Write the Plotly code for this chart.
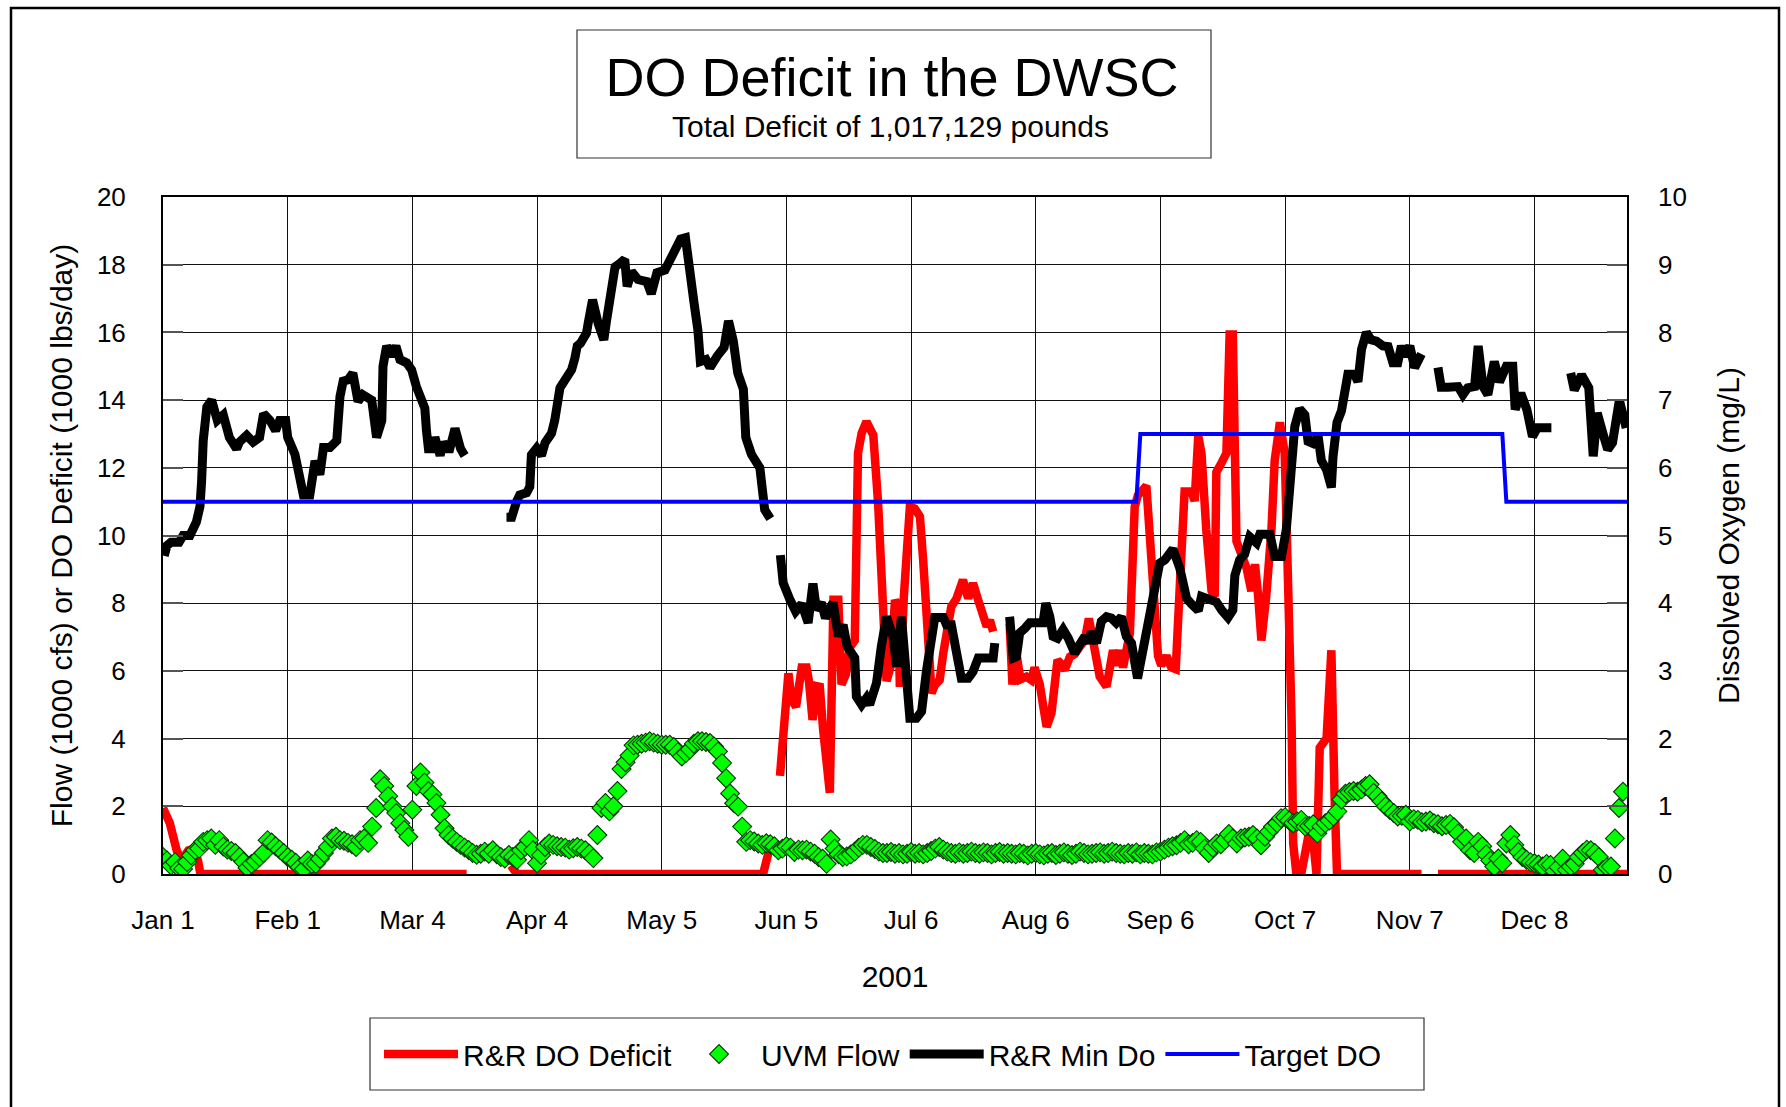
import plotly.graph_objects as go
import pandas as pd

# ---------------- data ----------------
BASE = pd.Timestamp("2001-01-01")

tick_dates = ["2001-01-01", "2001-02-01", "2001-03-04", "2001-04-04", "2001-05-05", "2001-06-05",
              "2001-07-06", "2001-08-06", "2001-09-06", "2001-10-07", "2001-11-07", "2001-12-08"]
tick_labels = ["Jan 1", "Feb 1", "Mar 4", "Apr 4", "May 5", "Jun 5",
               "Jul 6", "Aug 6", "Sep 6", "Oct 7", "Nov 7", "Dec 8"]

# UVM Flow (1000 cfs), one value per day starting Jan 1
flow_jan = [0.5, 0.4, 0.25, 0.35, 0.17, 0.15, 0.35, 0.55, 0.7, 0.75, 0.95, 1.0, 1.05, 0.86, 1.0, 0.81,
            0.72, 0.68, 0.62, 0.5, 0.36, 0.18, 0.3, 0.38, 0.5, 0.62, 1.0, 0.93, 0.82, 0.72, 0.62]
flow_feb = [0.5, 0.42, 0.33, 0.2, 0.14, 0.4, 0.3, 0.3, 0.45, 0.62, 0.8, 1.05, 1.1, 1.0, 0.98, 0.92,
            0.88, 0.8, 1.0, 1.05, 0.92, 1.4, 1.95, 2.8, 2.6, 2.3, 2.0, 1.8]
flow_mar = [1.5, 1.3, 1.1, 1.9, 2.6, 3.0, 2.7, 2.45, 2.35, 2.1, 1.75, 1.35, 1.15, 1.05, 0.95, 0.86,
            0.78, 0.71, 0.62, 0.57, 0.6, 0.66, 0.6, 0.7, 0.58, 0.5, 0.46, 0.56, 0.5, 0.42, 0.7]
flow_apr = [0.8, 1.0, 0.7, 0.32, 0.56, 0.8, 0.9, 0.86, 0.82, 0.8, 0.78, 0.72, 0.76, 0.8, 0.75, 0.7,
            0.6, 0.47, 1.15, 1.95, 2.1, 1.85, 2.0, 2.45, 3.1, 3.3, 3.5, 3.8, 3.82, 3.85]
flow_may = [3.88, 3.92, 3.88, 3.85, 3.82, 3.82, 3.82, 3.75, 3.6, 3.47, 3.57, 3.68, 3.85, 3.92, 3.92,
            3.9, 3.87, 3.77, 3.62, 3.28, 2.83, 2.38, 2.09, 1.99, 1.4, 0.95, 1.0, 0.96, 0.9, 0.86, 0.91]
flow_jun = [0.88, 0.82, 0.7, 0.75, 0.82, 0.78, 0.65, 0.72, 0.7, 0.72, 0.66, 0.6, 0.5, 0.45, 0.3, 1.02,
            0.75, 0.58, 0.5, 0.52, 0.58, 0.66, 0.78, 0.86, 0.86, 0.8, 0.74, 0.66, 0.62, 0.62]
flow_jul = [0.65, 0.6, 0.62, 0.58, 0.6, 0.65, 0.6, 0.62, 0.58, 0.62, 0.68, 0.75, 0.8, 0.72, 0.66, 0.62,
            0.6, 0.64, 0.6, 0.62, 0.66, 0.62, 0.6, 0.64, 0.62, 0.58, 0.62, 0.65, 0.6, 0.62, 0.6]
flow_aug = [0.58, 0.62, 0.6, 0.55, 0.6, 0.62, 0.58, 0.55, 0.6, 0.62, 0.56, 0.6, 0.64, 0.6, 0.56, 0.6,
            0.66, 0.62, 0.58, 0.6, 0.62, 0.64, 0.6, 0.62, 0.66, 0.62, 0.6, 0.58, 0.62, 0.6, 0.64]
flow_sep = [0.58, 0.62, 0.6, 0.58, 0.64, 0.66, 0.72, 0.78, 0.82, 0.85, 0.92, 1.0, 0.88, 0.92, 1.0, 0.95,
            0.75, 0.62, 0.78, 0.9, 0.88, 1.0, 1.18, 1.05, 0.9, 1.05, 1.08, 1.1, 1.15, 1.05]
flow_oct = [0.85, 1.1, 1.25, 1.4, 1.5, 1.65, 1.68, 1.58, 1.5, 1.55, 1.6, 1.4, 1.42, 1.47, 1.2, 1.4,
            1.5, 1.58, 1.7, 1.85, 2.2, 2.37, 2.42, 2.45, 2.43, 2.5, 2.6, 2.65, 2.4, 2.3, 2.15]
flow_nov = [2.0, 1.9, 1.8, 1.7, 1.72, 1.75, 1.55, 1.62, 1.6, 1.53, 1.55, 1.58, 1.5, 1.47, 1.41, 1.45,
            1.48, 1.38, 1.2, 0.95, 1.05, 0.7, 0.62, 0.95, 0.82, 0.58, 0.4, 0.22, 0.46, 0.32]
flow_dec = [0.9, 1.15, 0.86, 0.65, 0.5, 0.42, 0.35, 0.32, 0.28, 0.22, 0.3, 0.27, 0.08, 0.2, 0.45, 0.12,
            0.22, 0.3, 0.5, 0.62, 0.72, 0.7, 0.62, 0.5, 0.12, 0.2, 0.22, 1.05, 1.95, 2.43]

# R&R DO Deficit (1000 lbs/day): day-of-year -> value (None = gap)
deficit_days = [0, 1.7, 3.4, 4.6, 6.3, 7.5, 8.7, 9.3, 75.5, 80,
                86.5, 88, 149.2, 150.9, 152,
                153.4, 154.6, 155.5, 156.3, 157.4, 158.8, 160, 160.6, 161.5, 162.5, 163.3, 164.1, 165.8,
                166.7, 167.9, 168.7, 169.8, 170.8, 172, 172.8, 173.7, 174.9, 176.6, 177.8, 178.6, 179.4,
                179.9, 180.9, 182, 182.8, 183.2, 184.2, 184.9, 185.7, 186.9, 188.2, 189, 189.8, 191.1,
                191.9, 193.1, 194, 194.8, 196, 197.3, 198.1, 198.9, 200.2, 201.4, 202.7, 203.5, 204.8,
                205.6, 206.4, 208.5,
                210.5, 211.2, 212.2, 213.2, 214.7, 215.9, 216.7, 218, 218.8, 219.7, 220.9, 221.9, 222.4,
                223.2, 224.2, 225.5, 226.7, 227.9, 229.2, 230.2, 231.2, 232.9, 234.6, 236.2, 237.1, 237.9,
                238.7, 240.4, 241.6, 242.4, 244.5, 245.7, 246.6, 247.4, 248.2, 249.5, 250.7, 251.8, 252.8,
                254, 255.7, 256.5, 257.4, 258.2, 259.4, 260.7, 261.5, 261.9, 263.2, 264.4, 265.2, 266,
                266.9, 268.1, 269.4, 270.6, 271.5, 272.3, 273.1, 274.3, 275.6, 276.4, 277.7, 278.9, 279.7,
                280.6, 281, 281.8, 283, 284.3, 285.5, 286.8, 287.6, 289.3, 290.5, 291.3, 291.9, 312.9, 315,
                317, 364]
deficit_vals = [1.95, 1.5, 0.7, 0.4, 0.7, 0.74, 0.4, 0, 0, None,
                0.25, 0, 0, 0.8, None,
                2.9, 4.55, 5.93, 5.14, 4.94, 6.1, 6.1, 5.7, 4.55, 5.55, 5.53, 4.3, 2.4,
                8.1, 8.1, 5.6, 5.9, 6.7, 6.9, 12.43, 13.02, 13.36, 12.97, 10.95, 8.49, 6.7,
                5.7, 6.12, 8.09, 7.9, 5.53, 8.19, 9.96, 10.85, 10.8, 10.56, 9.28, 7.7, 5.34,
                5.58, 5.73, 6.52, 7.11, 7.9, 8.14, 8.54, 8.69, 8.14, 8.59, 8.09, 7.7, 7.31,
                7.5, 7.16, None,
                7.4, 5.6, 6.5, 5.75, 5.83, 5.73, 6.1, 5.6, 5.0, 4.35, 4.75, 6.1, 6.32,
                6.22, 6.03, 6.42, 6.5, 6.71, 6.91, 7.55, 6.76, 5.83, 5.54, 6.61, 6.16, 6.61,
                6.1, 7.12, 10.85, 11.19, 11.47, 9.5, 7.35, 6.44, 6.16, 6.44, 6.1, 6.05, 8.48,
                11.3, 11.3, 11.02, 12.94, 12.43, 10.17, 8.36, 8.2, 11.87, 12.15, 12.43, 15.94, 15.94,
                9.83, 9.5, 9.04, 8.36, 9.15, 8.2, 6.9, 8.2, 10.17, 12.21, 13.34, 12.43, 9.04,
                4.52, 0.9, 0, 0, 0.9, 1.58, 0, 3.73, 4.01, 6.61, 2.26, 0, 0, None,
                0, 0]

# R&R Min Do (mg/L): day-of-year -> value (None = gap)
mindo_days = [0.3, 1, 2, 4, 5, 6.7, 8.3, 9.2, 9.6, 10, 10.9, 12.1, 13.5, 15, 16.5, 18.3, 19, 20.8, 22.4,
              24, 25, 26.6, 28, 29, 30.5, 31, 32.8, 34, 34.9, 36.5, 37.8, 39, 39.9, 41.5, 43.2, 44, 44.8,
              46, 47.2, 48.5, 49.7, 51.9, 52.3, 53.1, 54.4, 54.7, 55.6, 56.8, 57.9, 58.9, 60.6, 61.8, 63,
              64.3, 65.1, 65.5, 66, 67, 67.6, 68.9, 69.6, 70.5, 71.3, 72.6, 73.4, 74, 75, 80,
              85.4, 86.7, 87.9, 88.7, 90.4, 91.2, 91.6, 92.9, 94.1, 95, 96.6, 97.4, 98.7, 99.5, 101.6,
              102.4, 103, 103.8, 105.3, 105.7, 106.8, 108.2, 109.6, 110.3, 111.1, 112.4, 113.6, 114.8,
              115.4, 116.5, 118.1, 120.3, 121.4, 122.8, 124.8, 126.5, 127.3, 128.7, 129.9, 131, 132, 133,
              133.6, 135, 136, 137.8, 139.5, 140.6, 141.8, 142.9, 144.3, 144.9, 146.3, 148.4, 149.6, 151,
              152,
              153.5, 154.2, 155.9, 157.3, 158.8, 160.4, 161.6, 162.5, 163.7, 164.7, 166.6, 167.9, 169.1,
              170.1, 172, 172.4, 173.7, 174.9, 175.7, 177.4, 178.6, 179.9, 181.5, 182.4, 183.6, 184.9,
              185.7, 187.3, 188.6, 189.8, 191.1, 191.9, 194, 194.8, 196, 197.3, 198.5, 200.2, 201.4,
              202.7, 206.4, 206.8, 208.5,
              210.5, 211.4, 212.2, 213, 214.3, 215.5, 218.8, 219.5, 220.5, 221.3, 222.4, 223.8, 225.1,
              226.7, 227.9, 229.2, 230, 230.8, 232.1, 233.3, 234.6, 235.8, 237, 238.3, 239.5, 240.8,
              242.3, 243.7, 245.3, 246.6, 247.8, 249.1, 251.1, 252.8, 254.5, 255.7, 257.4, 258.2, 259.9,
              261.9, 263.2, 264.8, 266, 266.5, 267.7, 268.9, 270.2, 271.9, 272.7, 275.2, 276.4, 278.1,
              279.3, 280.6, 281.4, 282.6, 283.9, 284.7, 285.9, 287.2, 288, 289.3, 290.5, 290.9, 291.9,
              293, 293.8, 294.6, 296.3, 297.1, 298, 299.2, 300.4, 301.7, 303.3, 304.6, 305.8, 307, 307.9,
              308.7, 310, 311.2, 312.9, 315,
              317, 317.8, 319.5, 322, 323.2, 324.4, 326.1, 327, 328.2, 329.4, 331, 332.3, 334, 335.6,
              336.2, 337.6, 339.1, 340.5, 341.7, 345.2, 347.5,
              350, 350.9, 352.7, 354.5, 355.6, 356.6, 358, 359.2, 360.4, 362.1, 363.8]
mindo_vals = [4.7, 4.85, 4.9, 4.9, 5.0, 5.0, 5.2, 5.43, 5.8, 6.4, 6.9, 7.0, 6.7, 6.78, 6.45, 6.28, 6.38,
              6.48, 6.38, 6.45, 6.8, 6.7, 6.55, 6.7, 6.7, 6.45, 6.2, 5.83, 5.6, 5.6, 6.1, 5.9, 6.3, 6.3,
              6.4, 7.05, 7.28, 7.3, 7.4, 6.98, 7.08, 7.0, 6.73, 6.45, 6.7, 7.5, 7.8, 7.65, 7.8, 7.6, 7.55,
              7.45, 7.2, 6.95, 6.88, 6.55, 6.28, 6.28, 6.45, 6.18, 6.38, 6.28, 6.28, 6.58, 6.3, 6.28,
              6.18, None,
              5.27, 5.27, 5.5, 5.6, 5.63, 5.72, 6.19, 6.29, 6.18, 6.37, 6.51, 6.7, 7.18, 7.27, 7.45,
              7.62, 7.8, 7.84, 7.99, 8.13, 8.48, 8.13, 7.89, 8.18, 8.55, 8.97, 9.02, 9.08, 8.68, 8.9,
              8.78, 8.75, 8.57, 8.88, 8.92, 9.12, 9.21, 9.38, 9.4, 8.8, 8.45, 8.03, 7.57, 7.6, 7.48,
              7.65, 7.78, 8.17, 7.87, 7.4, 7.16, 6.45, 6.2, 6.0, 5.38, 5.25, None,
              4.71, 4.3, 4.05, 3.88, 3.99, 3.71, 4.29, 3.9, 4.01, 3.78, 4.01, 3.51, 3.68, 3.36, 3.19,
              2.62, 2.5, 2.6, 2.5, 2.82, 3.36, 3.8, 3.51, 3.06, 3.8, 2.77, 2.3, 2.3, 2.4, 2.99, 3.51,
              3.79, 3.79, 3.68, 3.68, 3.34, 2.89, 2.89, 2.99, 3.19, 3.19, 3.41, None,
              3.8, 3.19, 3.21, 3.56, 3.63, 3.71, 3.71, 4.0, 3.8, 3.51, 3.48, 3.61, 3.48, 3.26, 3.39,
              3.51, 3.41, 3.58, 3.41, 3.73, 3.8, 3.78, 3.71, 3.8, 3.51, 3.41, 2.89, 3.29, 3.8, 4.17,
              4.59, 4.64, 4.8, 4.52, 4.07, 3.99, 3.89, 4.1, 4.07, 4.02, 3.9, 3.79, 3.9, 4.41, 4.64,
              4.72, 4.98, 4.89, 5.02, 5.02, 4.69, 4.69, 5.09, 6.05, 6.61, 6.87, 6.78, 6.39, 6.36, 6.47,
              6.11, 5.97, 5.71, 6.16, 6.67, 6.84, 7.04, 7.38, 7.38, 7.27, 7.75, 8.0, 7.89, 7.87, 7.8,
              7.79, 7.55, 7.55, 7.8, 7.65, 7.8, 7.48, 7.68, None,
              7.48, 7.19, 7.19, 7.2, 7.08, 7.18, 7.2, 7.8, 7.2, 7.08, 7.57, 7.27, 7.5, 7.5, 6.86, 7.1,
              6.86, 6.46, 6.59, 6.59, None,
              7.4, 7.15, 7.37, 7.18, 6.17, 6.81, 6.51, 6.27, 6.37, 7.0, 6.59]

# Target DO (mg/L)
target_days = [0, 242, 243, 333, 334, 364]
target_vals = [5.5, 5.5, 6.5, 6.5, 5.5, 5.5]

chart_title = "DO Deficit in the DWSC"
chart_subtitle = "Total Deficit of 1,017,129 pounds"

# ---------------- helpers ----------------
flow_vals = (flow_jan + flow_feb + flow_mar + flow_apr + flow_may + flow_jun + flow_jul +
             flow_aug + flow_sep + flow_oct + flow_nov + flow_dec)
flow_dates = [BASE + pd.Timedelta(days=i) for i in range(len(flow_vals))]


def to_dates(days):
    return [BASE + pd.Timedelta(days=d) for d in days]


W, H = 1786, 1107
L, R, T, B = 163, 1627, 197, 874   # plot area in page pixels


def px(x):
    return (x - L) / (R - L)


def py(y):
    return (B - y) / (B - T)


FONT = "Liberation Sans, Arial, Helvetica, sans-serif"

fig = go.Figure()
fig.add_trace(go.Scatter(x=to_dates(deficit_days), y=deficit_vals, name="R&R DO Deficit",
                         mode="lines", line=dict(color="#FF0000", width=8.5), connectgaps=False))
fig.add_trace(go.Scatter(x=flow_dates, y=flow_vals, name="UVM Flow", mode="markers",
                         marker=dict(symbol="diamond", size=14.5, color="#00FF00",
                                     line=dict(color="#063806", width=1.1))))
fig.add_trace(go.Scatter(x=to_dates(mindo_days), y=mindo_vals, name="R&R Min Do", yaxis="y2",
                         mode="lines", line=dict(color="#000000", width=9), connectgaps=False))
fig.add_trace(go.Scatter(x=to_dates(target_days), y=target_vals, name="Target DO", yaxis="y2",
                         mode="lines", line=dict(color="#0000FF", width=4)))

fig.update_layout(
    width=W, height=H,
    margin=dict(l=L, r=W - R, t=T, b=H - B, pad=0),
    paper_bgcolor="white", plot_bgcolor="white",
    font=dict(family=FONT, color="black", size=26),
    showlegend=True,
    title=dict(text=chart_title, font=dict(size=54, family=FONT, color="black"),
               xref="container", x=892 / W, xanchor="center",
               yref="container", y=1 - 77 / H, yanchor="middle"),
    annotations=[dict(text=chart_subtitle, xref="paper", yref="paper", x=px(890), y=py(126),
                      xanchor="center", yanchor="middle", showarrow=False,
                      font=dict(size=30, family=FONT, color="black"))],
    xaxis=dict(type="date", range=[BASE, BASE + pd.Timedelta(days=364)],
               tickmode="array", tickvals=tick_dates, ticktext=tick_labels,
               showgrid=True, gridcolor="#111111", gridwidth=1.2,
               showline=True, linecolor="black", linewidth=2, mirror=True,
               ticks="", ticklabelstandoff=22, tickfont=dict(size=26),
               title=dict(text="2001", font=dict(size=30), standoff=32),
               zeroline=False),
    yaxis=dict(range=[0, 20], tick0=0, dtick=2,
               showgrid=True, gridcolor="#111111", gridwidth=1.2,
               showline=True, linecolor="black", linewidth=2, mirror=True,
               ticks="inside", ticklen=20, tickwidth=2, tickcolor="#555555",
               ticklabelstandoff=30, tickfont=dict(size=26),
               title=dict(text="Flow (1000 cfs) or DO Deficit (1000 lbs/day)", font=dict(size=30),
                          standoff=15),
               zeroline=False),
    yaxis2=dict(range=[0, 10], tick0=0, dtick=1, overlaying="y", side="right",
                showgrid=False, showline=False,
                ticks="inside", ticklen=20, tickwidth=2, tickcolor="#555555",
                ticklabelstandoff=30, tickfont=dict(size=26),
                title=dict(text="Dissolved Oxygen (mg/L)", font=dict(size=30), standoff=32),
                zeroline=False),
    legend=dict(orientation="h", x=px(883), xanchor="center", y=py(1054), yanchor="middle",
                font=dict(size=30, family=FONT, color="black"), bgcolor="rgba(0,0,0,0)",
                borderwidth=0, itemwidth=74, traceorder="normal"),
    shapes=[
        # chart-area border
        dict(type="rect", xref="paper", yref="paper", x0=px(11), x1=px(1779), y0=py(1112), y1=py(8),
             line=dict(color="black", width=2.5), fillcolor="rgba(0,0,0,0)", layer="below"),
        # title box
        dict(type="rect", xref="paper", yref="paper", x0=px(577), x1=px(1211), y0=py(158), y1=py(30),
             line=dict(color="#333333", width=1.2), fillcolor="rgba(0,0,0,0)", layer="below"),
        # legend box
        dict(type="rect", xref="paper", yref="paper", x0=px(370), x1=px(1424), y0=py(1090), y1=py(1018),
             line=dict(color="#333333", width=1.2), fillcolor="rgba(0,0,0,0)", layer="below"),
    ],
)

fig.write_html("out.html", config={"displayModeBar": False},
               post_script="document.body.style.margin='0';document.body.style.overflow='hidden';")
